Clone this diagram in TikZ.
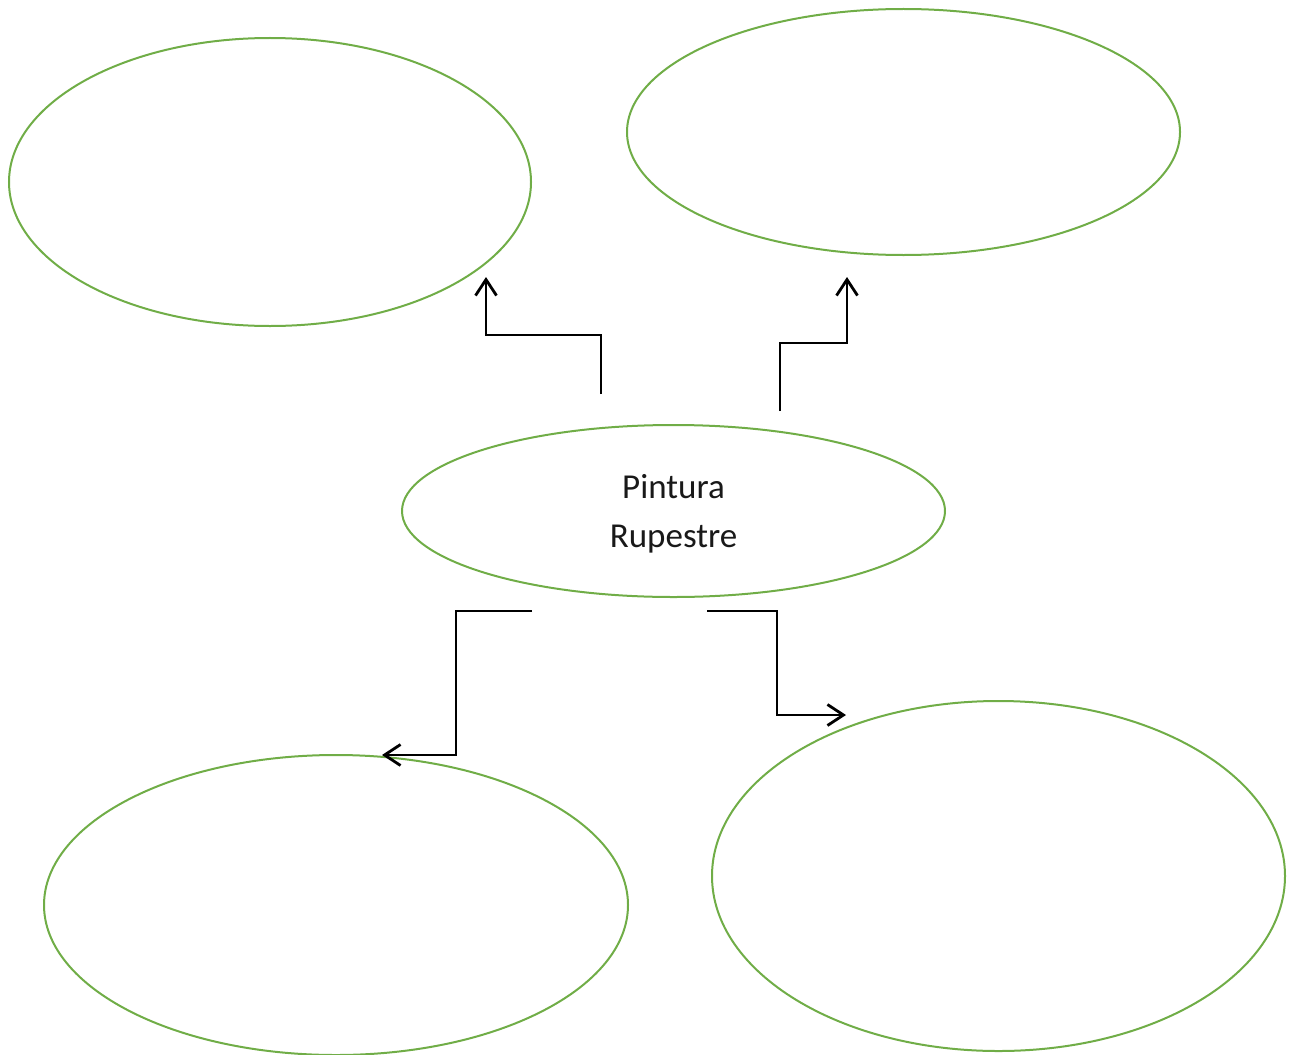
\documentclass[tikz,border=0pt]{standalone}
\usepackage{fontspec}
\setmainfont{Carlito}
\usetikzlibrary{shapes.geometric,arrows.meta}
\definecolor{leafgreen}{RGB}{112,173,71}
\tikzset{
  bubble/.style={draw=leafgreen, line width=2pt, ellipse, inner sep=0pt},
  elbow/.style={draw=black, line width=2.8pt, line join=miter,
    -{Straight Barb[length=16pt,width=21pt,line width=2.8pt]}}
}
\begin{document}
\begin{tikzpicture}[x=1pt,y=-1pt]
\useasboundingbox (0,0) rectangle (1297,1054);
\node[bubble, minimum width=522pt, minimum height=288pt] (tl) at (270,182) {};
\node[bubble, minimum width=553pt, minimum height=246pt] (tr) at (903.5,132) {};
\node[bubble, minimum width=543pt, minimum height=172pt] (c) at (673.5,511) {};
\node[align=center, inner sep=0pt, font=\fontsize{35}{49}\selectfont,
  color=black!90] (ctext) at (673.5,514) {Pintura\\Rupestre};
\node[bubble, minimum width=584pt, minimum height=300pt] (bl) at (336,905) {};
\node[bubble, minimum width=573pt, minimum height=350pt] (br) at (998.5,876) {};

\coordinate (a0) at (601,394);
\coordinate (a1) at (486,277);
\coordinate (b0) at (780,411);
\coordinate (b1) at (847,277);
\coordinate (c0) at (532,611);
\coordinate (c1) at (382,755);
\coordinate (d0) at (707,611);
\coordinate (d1) at (846,715);

\draw[elbow] (a0) -- (601,335) -- (486,335) -- (a1);
\draw[elbow] (b0) -- (780,343) -- (847,343) -- (b1);
\draw[elbow] (c0) -- (456,611) -- (456,755) -- (c1);
\draw[elbow] (d0) -- (777,611) -- (777,715) -- (d1);
\end{tikzpicture}
\end{document}
